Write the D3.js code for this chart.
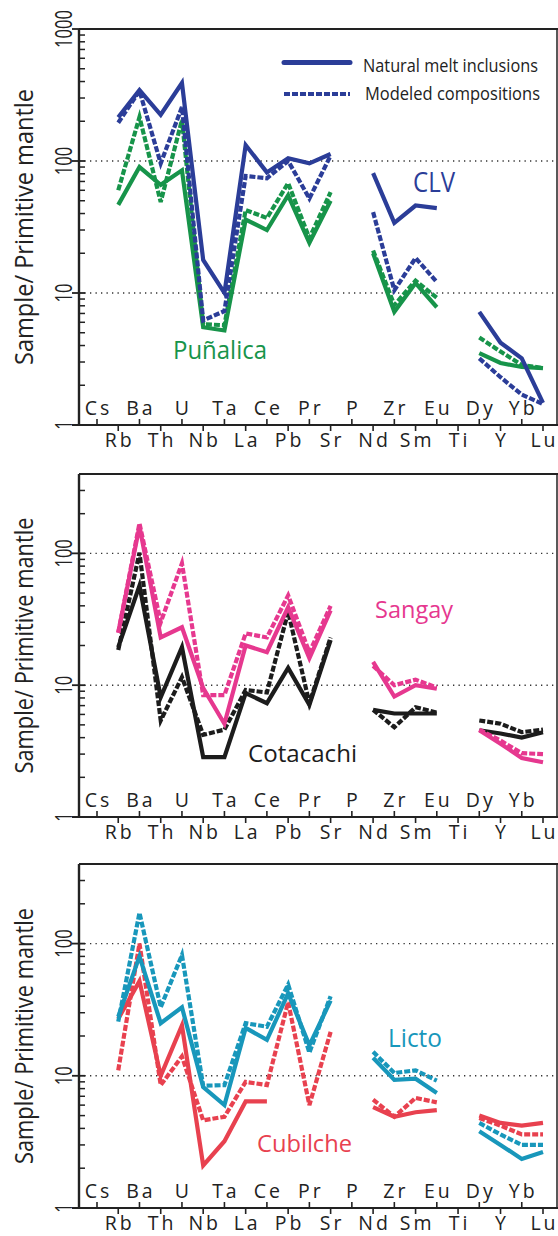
<!DOCTYPE html>
<html><head><meta charset="utf-8">
<script src="https://cdn.jsdelivr.net/npm/d3@7"></script>
<style>
html,body{margin:0;padding:0;background:#fff;}
svg{display:block;font-family:"Open Sans","Noto Sans",sans-serif;}
</style></head>
<body>
<svg id="chart" width="558" height="1236"></svg>
<script>
// ---- data ----
const elements = ["Cs","Rb","Ba","Th","U","Nb","Ta","La","Ce","Pb","Pr","Sr","P","Nd","Zr","Sm","Eu","Ti","Dy","Y","Yb","Lu"];
const upperRow = ["Cs","Ba","U","Ta","Ce","Pr","P","Zr","Eu","Dy","Yb"];
const lowerRow = ["Rb","Th","Nb","La","Pb","Sr","Nd","Sm","Ti","Y","Lu"];
const yTicksTop = [1,10,100,1000];
const yTicksOther = [1,10,100];

//                 Cs   Rb   Ba   Th   U    Nb   Ta   La   Ce   Pb   Pr   Sr   P    Nd   Zr   Sm   Eu   Ti   Dy   Y    Yb   Lu
const clvNatural = [null,214, 345, 224, 390, 17.8,10,  132, 82,  105, 96,  113, null,81,  34,  46,  44,  null,7.2, 4.2, 3.2, 1.47];
const clvModeled = [null,195, 340, 96,  256, 6.2, 7.3, 77,  74,  100, 52,  110, null,41,  10.5,18.4,12.1,null,3.2, 2.3, 1.7, 1.44];
const punNatural = [null,46.5,90,  66,  85,  5.5, 5.2, 36,  30,  55,  24,  50,  null,20,  7.2, 11.9,7.8, null,3.5, 2.95,2.75,2.7];
const punModeled = [null,60,  215, 49,  204, 5.8, 5.7, 42.5,37,  68,  26,  58,  null,21,  8.1, 12.4,9.2, null,4.6, 3.6, 2.85,2.7];

const sanNatural = [null,25,  160, 23,  27.5,9.5, 5.1, 20,  17.8,39,  16,  37,  null,15,  8.2, 10,  9.4, null,4.55,3.6, 2.8, 2.6];
const sanModeled = [null,25,  169, 30,  84,  8.4, 8.4, 24.7,23,  48,  17.7,40,  null,14,  10,  11,  9.6, null,4.6, 3.8, 3.05,3.0];
const cotNatural = [null,19.4,57,  8.1, 19.4,2.85,2.85,8.7, 7.3, 13.5,7.1, 22,  null,6.5, 6.1, 6.1, 6.1, null,4.55,4.3, 4.0, 4.4];
const cotModeled = [null,18.5,101, 5.4, 11.5,4.2, 4.6, 9.2, 8.8, 36,  7.3, 23,  null,6.5, 4.8, 6.8, 6.2, null,5.4, 5.1, 4.4, 4.6];

const licNatural = [null,28,  80,  25,  33,  8.2, 6.0, 23,  18.7,42,  17,  37,  null,13.7,9.3, 9.5, 7.4, null,3.8, 3.0, 2.35,2.65];
const licModeled = [null,25.7,171, 33,  82,  8.4, 8.5, 25,  23.5,49,  15,  40,  null,15.2,10.5,11,  9.2, null,4.4, 3.6, 3.0, 3.0];
const cubNatural = [null,27,  52,  10,  24,  2.1, 3.2, 6.4, 6.4, null,null,null,null,5.8, 4.9, 5.3, 5.5, null,5.0, 4.4, 4.2, 4.4];
const cubModeled = [null,11,  100, 8.5, 14,  4.6, 4.9, 9,   8.5, 36,  6,   21.5,null,6.6, 4.9, 6.8, 6.3, null,4.8, 4.2, 3.6, 3.6];

const legendLabels = ["Natural melt inclusions","Modeled compositions"];
const yTitle = "Sample/ Primitive mantle";

// ---- styles ----
const C = {blue:"#2b3d98", green:"#17944a", pink:"#e6388f", black:"#1c1c1c", cyan:"#1897bb", red:"#e8414f"};

const panels = [
  {top:29, bottom:425, ymax:1000, ticks:yTicksTop, titleLen:276,
   series:[[punNatural,C.green,false],[punModeled,C.green,true],[clvNatural,C.blue,false],[clvModeled,C.blue,true]],
   labels:[["CLV",413,192,27,42,C.blue],["Puñalica",173,359,26,94,C.green]], legend:true},
  {top:474, bottom:817, ymax:400, ticks:yTicksOther, titleLen:256,
   series:[[cotNatural,C.black,false],[cotModeled,C.black,true],[sanNatural,C.pink,false],[sanModeled,C.pink,true]],
   labels:[["Sangay",375,618,23,78,C.pink],["Cotacachi",248,762,24,109,C.black]]},
  {top:864, bottom:1208, ymax:400, ticks:yTicksOther, titleLen:256,
   series:[[cubNatural,C.red,false],[cubModeled,C.red,true],[licNatural,C.cyan,false],[licModeled,C.cyan,true]],
   labels:[["Licto",388,1047,25,54,C.cyan],["Cubilche",257,1152,24,95,C.red]]}
];

const svg = d3.select("#chart");
const xLeft = 79, xRight = 557;
const x = d3.scalePoint().domain(elements).range([97, 543]);

panels.forEach(p => {
  const g = svg.append("g");
  const y = d3.scaleLog().domain([1, p.ymax]).range([p.bottom, p.top]);

  // dotted grid lines
  [10,100].forEach(v => {
    g.append("line").attr("x1", xLeft).attr("x2", xRight).attr("y1", y(v)).attr("y2", y(v))
      .attr("stroke","#333").attr("stroke-width",1.4).attr("stroke-dasharray","1.3,4.2");
  });

  // minor ticks (inside)
  const minor = [];
  for (let d = 1; d < p.ymax; d *= 10) for (let k = 2; k <= 9; k++) if (d*k < p.ymax) minor.push(d*k);
  g.selectAll(".mn").data(minor).enter().append("line")
    .attr("x1", xLeft).attr("x2", xLeft+6).attr("y1", d=>y(d)).attr("y2", d=>y(d))
    .attr("stroke","#222").attr("stroke-width",1.5);
  // major ticks
  g.selectAll(".mj").data(p.ticks).enter().append("line")
    .attr("x1", xLeft-7).attr("x2", xLeft+6).attr("y1", d=>y(d)).attr("y2", d=>y(d))
    .attr("stroke","#222").attr("stroke-width",1.8);
  g.selectAll(".tl").data(p.ticks).enter().append("text")
    .attr("transform", d=>`translate(72,${y(d)}) rotate(-90) scale(0.72,1)`)
    .attr("text-anchor","middle").attr("font-size",23).attr("fill","#222").text(d=>d);

  // y title
  g.append("text").attr("transform",`translate(33,${(p.top+p.bottom)/2}) rotate(-90)`)
    .attr("text-anchor","middle").attr("font-size",26).attr("fill","#222")
    .attr("textLength",p.titleLen).attr("lengthAdjust","spacingAndGlyphs").text(yTitle);

  // frame
  g.append("line").attr("x1",xLeft).attr("x2",558).attr("y1",p.top).attr("y2",p.top).attr("stroke","#222").attr("stroke-width",2);
  g.append("line").attr("x1",xLeft-7).attr("x2",558).attr("y1",p.bottom).attr("y2",p.bottom).attr("stroke","#222").attr("stroke-width",2.2);
  g.append("line").attr("x1",xLeft).attr("x2",xLeft).attr("y1",p.top).attr("y2",p.bottom).attr("stroke","#222").attr("stroke-width",2.4);
  g.append("line").attr("x1",xRight).attr("x2",xRight).attr("y1",p.top).attr("y2",p.bottom).attr("stroke","#222").attr("stroke-width",1.5);

  // x ticks & labels
  g.selectAll(".ut").data(upperRow).enter().append("line")
    .attr("x1",d=>x(d)).attr("x2",d=>x(d)).attr("y1",p.bottom).attr("y2",p.bottom-6).attr("stroke","#222").attr("stroke-width",1.6);
  g.selectAll(".lt").data(lowerRow).enter().append("line")
    .attr("x1",d=>x(d)).attr("x2",d=>x(d)).attr("y1",p.bottom).attr("y2",p.bottom+6).attr("stroke","#222").attr("stroke-width",1.6);
  g.selectAll(".ul").data(upperRow).enter().append("text")
    .attr("x",d=>x(d)+1.5).attr("y",p.bottom-10).attr("text-anchor","middle")
    .attr("font-size",19.5).attr("letter-spacing","3px").attr("fill","#222").text(d=>d);
  g.selectAll(".ll").data(lowerRow).enter().append("text")
    .attr("x",d=>x(d)+1.5).attr("y",p.bottom+22).attr("text-anchor","middle")
    .attr("font-size",19.5).attr("letter-spacing","3px").attr("fill","#222").text(d=>d);

  // series
  const line = d3.line().defined(d=>d.v!=null).x(d=>x(d.e)).y(d=>y(d.v));
  p.series.forEach(([vals,color,dashed]) => {
    const data = elements.map((e,i)=>({e, v: vals[i]}));
    g.append("path").datum(data).attr("d",line).attr("fill","none")
      .attr("stroke",color).attr("stroke-width",4.2)
      .attr("stroke-linejoin","miter").attr("stroke-linecap","butt")
      .attr("stroke-dasharray",dashed?"6,2":null);
  });

  // series labels
  p.labels.forEach(([t,lx,ly,fs,len,col]) => {
    g.append("text").attr("x",lx).attr("y",ly).attr("font-size",fs).attr("fill",col)
      .attr("textLength",len).attr("lengthAdjust","spacingAndGlyphs").text(t);
  });

  if (p.legend) {
    g.append("line").attr("x1",284).attr("x2",350).attr("y1",62.5).attr("y2",62.5)
      .attr("stroke",C.blue).attr("stroke-width",5).attr("stroke-linecap","round");
    g.append("line").attr("x1",284).attr("x2",350).attr("y1",94).attr("y2",94)
      .attr("stroke",C.blue).attr("stroke-width",4).attr("stroke-dasharray","6,2");
    g.append("text").attr("x",363).attr("y",72).attr("font-size",18).attr("fill","#222")
      .attr("textLength",175).attr("lengthAdjust","spacingAndGlyphs").text(legendLabels[0]);
    g.append("text").attr("x",365).attr("y",100).attr("font-size",18).attr("fill","#222")
      .attr("textLength",175).attr("lengthAdjust","spacingAndGlyphs").text(legendLabels[1]);
  }
});
</script>
</body></html>
